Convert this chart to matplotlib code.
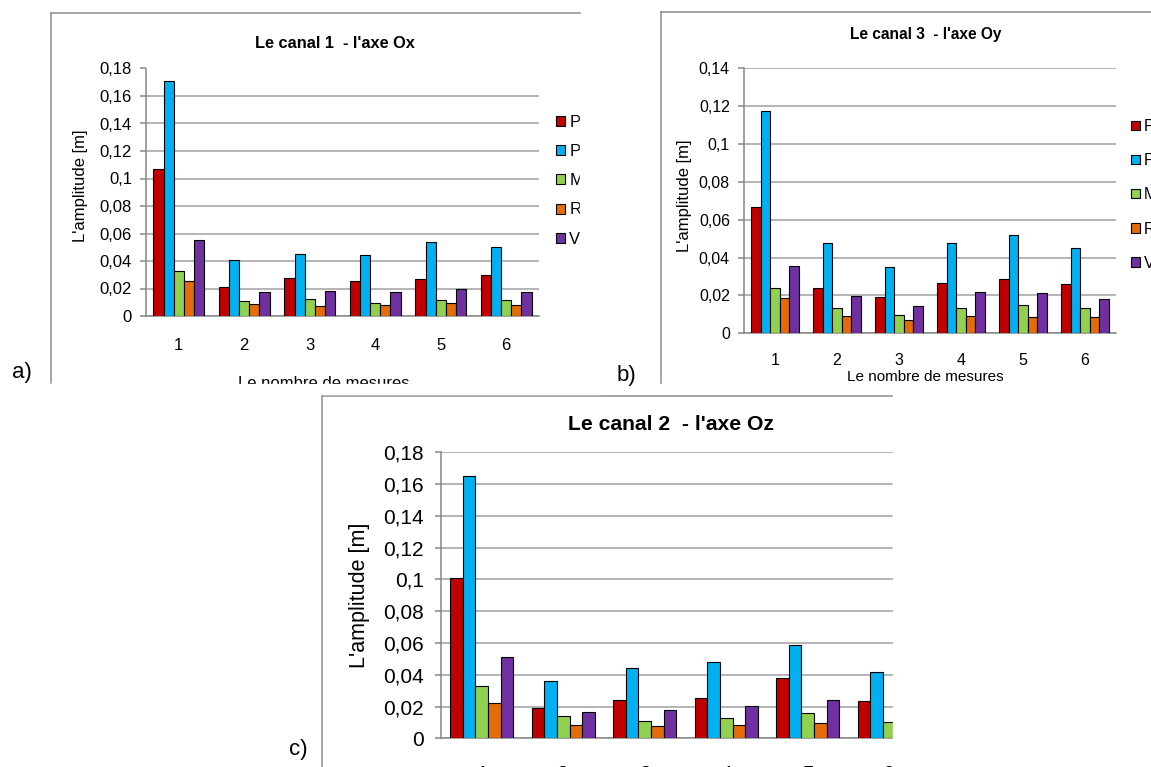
import numpy as np
import matplotlib.pyplot as plt
from matplotlib.lines import Line2D
from matplotlib.patches import Rectangle
from matplotlib.ticker import MultipleLocator, FuncFormatter

W, H = 1151, 767
plt.rcParams['font.family'] = ['Liberation Sans', 'DejaVu Sans']

cats = ['1', '2', '3', '4', '5', '6']
names = ['P', 'P', 'M', 'R', 'V']
colors = ['#C00000', '#00B0F0', '#92D050', '#E46C0A', '#7030A0']

# canal 1 - axe Ox (a)
c1_p1 = [0.107, 0.021, 0.028, 0.0255, 0.027, 0.0296]
c1_p2 = [0.171, 0.041, 0.045, 0.0445, 0.054, 0.050]
c1_m = [0.033, 0.011, 0.0124, 0.0097, 0.012, 0.0116]
c1_r = [0.0258, 0.0085, 0.0073, 0.008, 0.0092, 0.008]
c1_v = [0.055, 0.0172, 0.018, 0.0175, 0.020, 0.0177]

# canal 3 - axe Oy (b)
c3_p1 = [0.0667, 0.0241, 0.019, 0.0266, 0.0287, 0.026]
c3_p2 = [0.1175, 0.0476, 0.0352, 0.0476, 0.0518, 0.0453]
c3_m = [0.0241, 0.0134, 0.0095, 0.0135, 0.0148, 0.0132]
c3_r = [0.0186, 0.009, 0.007, 0.009, 0.0088, 0.0085]
c3_v = [0.0353, 0.0199, 0.0146, 0.0218, 0.0212, 0.018]

# canal 2 - axe Oz (c)
c2_p1 = [0.101, 0.019, 0.0243, 0.0253, 0.0377, 0.0236]
c2_p2 = [0.165, 0.036, 0.0443, 0.048, 0.059, 0.0418]
c2_m = [0.0327, 0.0141, 0.0112, 0.0127, 0.0162, 0.0105]
c2_r = [0.0222, 0.0084, 0.008, 0.0084, 0.0095, 0.008]
c2_v = [0.0513, 0.0165, 0.0179, 0.0204, 0.024, 0.018]


def fx(px):
    return px / W


def fy(py):
    return 1 - py / H


def comma(v, pos):
    return f"{round(v, 3):g}".replace('.', ',')


def panel(fig, box, series, ymax, xmax, fs, pad_y, pad_x):
    l, r, b, t = box  # pixels
    ax = fig.add_axes([fx(l), fy(b), (r - l) / W, (b - t) / H])
    x = np.arange(len(cats))
    w = 0.155
    for i, vals in enumerate(series):
        ax.bar(x + (i - 2) * w, vals, w, color=colors[i], edgecolor='black',
               lw=0.8, label=names[i], zorder=3)
    ax.set_xlim(-0.5, xmax)
    ax.set_ylim(0, ymax)
    ax.yaxis.set_major_locator(MultipleLocator(0.02))
    ax.yaxis.set_major_formatter(FuncFormatter(comma))
    ax.set_xticks(x, cats)
    ax.grid(axis='y', color='#a0a0a0', lw=1.1, zorder=0)
    ax.set_axisbelow(True)
    for s in ['top', 'right']:
        ax.spines[s].set_visible(False)
    for s in ['left', 'bottom']:
        ax.spines[s].set_color('#868686')
        ax.spines[s].set_linewidth(1.1)
    ax.tick_params(axis='y', length=4.3, width=1.1, color='#868686', pad=pad_y, labelsize=fs)
    ax.tick_params(axis='x', length=0, pad=pad_x, labelsize=fs)
    return ax


def frame(fig, x0, x1, y0, y1):
    fig.add_artist(Line2D([fx(x0), fx(x1)], [fy(y0), fy(y0)], color='#8c8c8c', lw=1.1))
    fig.add_artist(Line2D([fx(x0), fx(x0)], [fy(y0), fy(y1)], color='#8c8c8c', lw=1.1))


def mask(fig, x0, x1, y0, y1):
    fig.add_artist(Rectangle((fx(x0), fy(y1)), (x1 - x0) / W, (y1 - y0) / H,
                             transform=fig.transFigure, color='white', zorder=5))


fig = plt.figure(figsize=(W / 100, H / 100), dpi=100)

# panel a
ax_a = panel(fig, (146, 539, 316, 68.5), [c1_p1, c1_p2, c1_m, c1_r, c1_v],
             0.18, 5.5, 12, 5.8, 15.5)
ax_a.legend(loc='upper left', bbox_to_anchor=(fx(556), fy(115)), bbox_transform=fig.transFigure,
            frameon=False, handlelength=0.55, handleheight=0.55, handletextpad=0.25,
            labelspacing=0.85, borderpad=0, borderaxespad=0, fontsize=12)
frame(fig, 51, 580, 13.3, 383)
fig.text(fx(335), fy(44), "Le canal 1  - l'axe Ox", ha='center', va='center',
         fontsize=11.8, fontweight='bold')
fig.text(fx(80), fy(186), "L'amplitude [m]", rotation=90, ha='center', va='center', fontsize=12)
fig.text(fx(324), fy(375.5), "Le nombre de mesures", ha='center', va='top', fontsize=12)
fig.text(fx(22), fy(372), "a)", ha='center', va='center', fontsize=16, zorder=6)
mask(fig, 580, 652, 100, 260)
mask(fig, 40, 600, 383.5, 394)

# panel b
ax_b = panel(fig, (744, 1116, 333.3, 68.3), [c3_p1, c3_p2, c3_m, c3_r, c3_v],
             0.14, 5.5, 11.5, 5.8, 14.4)
ax_b.legend(loc='upper left', bbox_to_anchor=(fx(1131), fy(119)), bbox_transform=fig.transFigure,
            frameon=False, handlelength=0.55, handleheight=0.55, handletextpad=0.25,
            labelspacing=1.2, borderpad=0, borderaxespad=0, fontsize=11.5)
frame(fig, 660.5, 1151, 11.7, 383)
fig.text(fx(926), fy(35), "Le canal 3  - l'axe Oy", ha='center', va='center',
         fontsize=11.2, fontweight='bold')
fig.text(fx(685), fy(196), "L'amplitude [m]", rotation=90, ha='center', va='center', fontsize=12)
fig.text(fx(925), fy(377), "Le nombre de mesures", ha='center', va='center', fontsize=11)
fig.text(fx(626), fy(375), "b)", ha='center', va='center', fontsize=16, zorder=6)

# panel c (cut on the right and bottom)
ax_c = panel(fig, (441, 893, 738.3, 452.3), [c2_p1, c2_p2, c2_m, c2_r, c2_v],
             0.18, -0.5 + (893 - 441) / 81.5, 15, 8, 19)
frame(fig, 322, 893, 395.7, 767)
fig.text(fx(671), fy(424), "Le canal 2  - l'axe Oz", ha='center', va='center',
         fontsize=15.2, fontweight='bold')
fig.text(fx(359), fy(595), "L'amplitude [m]", rotation=90, ha='center', va='center', fontsize=15.5)
fig.text(fx(298), fy(750), "c)", ha='center', va='center', fontsize=16, zorder=6)
mask(fig, 893, 1151, 390, 767)

fig.savefig('out.png', dpi=100)
